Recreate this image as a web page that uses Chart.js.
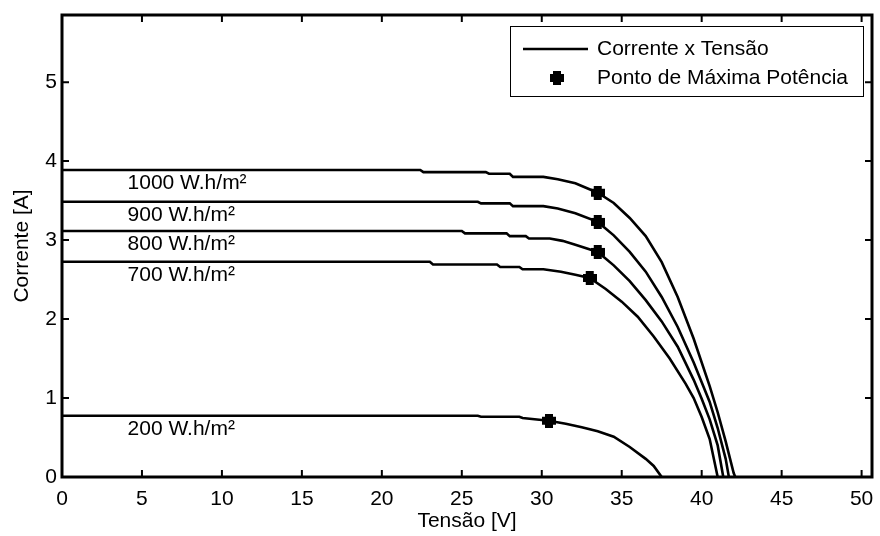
<!DOCTYPE html>
<html lang="pt">
<head>
<meta charset="UTF-8">
<title>Curvas Corrente x Tensão</title>
<style>
    body {
        margin: 0;
        background: #ffffff;
    }
    #ivChart {
        display: block;
    }
</style>
</head>
<body>
<canvas id="ivChart" width="880" height="536"></canvas>

<script src="https://cdn.jsdelivr.net/npm/chart.js@4/dist/chart.umd.min.js"></script>
<script>
    // Rótulos de irradiância de cada curva
    const irradiancias = ['1000 W.h/m²', '900 W.h/m²', '800 W.h/m²', '700 W.h/m²', '200 W.h/m²'];

    // Curvas I x V (tensão em V, corrente em A)
    const tensao1000 = [0, 22.4, 22.6, 26.5, 26.7, 28.0, 28.2, 30.1, 31.0, 32.1, 33.5, 34.5, 35.5, 36.5, 37.5, 38.5, 39.5, 40.5, 41.0, 41.5, 42.0, 42.1];
    const corrente1000 = [3.888, 3.888, 3.86, 3.86, 3.84, 3.84, 3.80, 3.80, 3.77, 3.72, 3.60, 3.47, 3.28, 3.05, 2.72, 2.28, 1.75, 1.15, 0.82, 0.45, 0.05, 0];

    const tensao900 = [0, 26.0, 26.2, 28.0, 28.2, 30.1, 31.0, 32.1, 33.5, 34.5, 35.5, 36.5, 37.5, 38.5, 39.5, 40.0, 40.5, 41.0, 41.5, 41.7];
    const corrente900 = [3.485, 3.485, 3.465, 3.465, 3.43, 3.43, 3.40, 3.34, 3.23, 3.06, 2.85, 2.60, 2.28, 1.90, 1.45, 1.20, 0.95, 0.62, 0.23, 0];

    const tensao800 = [0, 25.0, 25.2, 27.8, 28.0, 29.0, 29.2, 30.5, 31.3, 32.1, 33.5, 34.5, 35.5, 36.5, 37.5, 38.5, 39.5, 40.0, 40.5, 41.0, 41.35];
    const corrente800 = [3.115, 3.115, 3.085, 3.085, 3.05, 3.05, 3.02, 3.02, 2.99, 2.94, 2.85, 2.68, 2.48, 2.24, 1.97, 1.65, 1.23, 0.99, 0.73, 0.40, 0];

    const tensao700 = [0, 23.0, 23.2, 27.2, 27.4, 28.6, 28.8, 30.1, 31.2, 32.1, 33.0, 34.0, 35.0, 36.0, 37.0, 38.0, 39.0, 39.5, 40.0, 40.5, 41.0];
    const corrente700 = [2.725, 2.725, 2.69, 2.69, 2.66, 2.66, 2.63, 2.63, 2.60, 2.56, 2.52, 2.38, 2.22, 2.03, 1.78, 1.50, 1.18, 1.00, 0.76, 0.48, 0];

    const tensao200 = [0, 26.0, 26.2, 28.6, 28.8, 30.45, 31.5, 32.5, 33.5, 34.5, 35.5, 36.5, 37.0, 37.5];
    const corrente200 = [0.775, 0.775, 0.763, 0.763, 0.747, 0.713, 0.675, 0.63, 0.58, 0.51, 0.38, 0.23, 0.14, 0];

    // Pontos de máxima potência (1000, 900, 800, 700, 200)
    const tensaoMPP = [33.5, 33.5, 33.5, 33.0, 30.45];
    const correnteMPP = [3.60, 3.23, 2.85, 2.52, 0.713];

    // Marcas dos eixos
    const ticksTensao = [0, 5, 10, 15, 20, 25, 30, 35, 40, 45, 50];
    const ticksCorrente = [0, 1, 2, 3, 4, 5];

    const legendas = ['Corrente x Tensão', 'Ponto de Máxima Potência'];

    const curvas = [
        [tensao1000, corrente1000],
        [tensao900, corrente900],
        [tensao800, corrente800],
        [tensao700, corrente700],
        [tensao200, corrente200]
    ];

    const FONTE = '"Liberation Sans", Arial, sans-serif';
    const TAM_FONTE = 21;

    // marcador em forma de cruz grossa
    function criaMarcador(tam) {
        const c = document.createElement('canvas');
        c.width = tam;
        c.height = tam;
        const g = c.getContext('2d');
        const braco = Math.round(tam * 0.55);
        const off = (tam - braco) / 2;
        g.fillStyle = '#000';
        g.fillRect(0, off, tam, braco);
        g.fillRect(off, 0, braco, tam);
        g.beginPath();
        g.arc(tam / 2, tam / 2, tam * 0.4, 0, Math.PI * 2);
        g.fill();
        return c;
    }
    const marcador = criaMarcador(14);

    const datasets = curvas.map(c => ({
        label: legendas[0],
        data: c[0].map((v, i) => ({ x: v, y: c[1][i] })),
        showLine: true,
        borderColor: '#000',
        borderWidth: 2.6,
        pointRadius: 0,
        tension: 0
    }));

    datasets.push({
        label: legendas[1],
        data: tensaoMPP.map((v, i) => ({ x: v, y: correnteMPP[i] })),
        showLine: false,
        pointStyle: marcador,
        pointRadius: 7,
        backgroundColor: '#000',
        borderColor: '#000'
    });

    // moldura, marcas internas, rótulos das curvas e legenda
    const moldura = {
        id: 'moldura',
        afterDatasetsDraw(chart) {
            const ctx = chart.ctx;
            const a = chart.chartArea;
            const sx = chart.scales.x;
            const sy = chart.scales.y;
            ctx.save();
            ctx.strokeStyle = '#000';

            // marcas para dentro
            ctx.lineWidth = 2;
            ctx.beginPath();
            ticksTensao.forEach(v => {
                const px = sx.getPixelForValue(v);
                ctx.moveTo(px, a.bottom);
                ctx.lineTo(px, a.bottom - 7);
                ctx.moveTo(px, a.top);
                ctx.lineTo(px, a.top + 7);
            });
            ticksCorrente.forEach(v => {
                const py = sy.getPixelForValue(v);
                ctx.moveTo(a.left, py);
                ctx.lineTo(a.left + 7, py);
                ctx.moveTo(a.right, py);
                ctx.lineTo(a.right - 7, py);
            });
            ctx.stroke();

            ctx.lineWidth = 3;
            ctx.strokeRect(a.left, a.top, a.right - a.left, a.bottom - a.top);

            // rótulos de irradiância logo abaixo de cada curva
            ctx.fillStyle = '#000';
            ctx.font = TAM_FONTE + 'px ' + FONTE;
            ctx.textAlign = 'left';
            ctx.textBaseline = 'middle';
            const xRotulo = sx.getPixelForValue(4.1);
            curvas.forEach((c, k) => {
                const py = sy.getPixelForValue(c[1][0]);
                ctx.fillText(irradiancias[k], xRotulo, py + 13);
            });

            // legenda
            const lx = a.right - 362;
            const ly = a.top + 11;
            const lw = 353;
            const lh = 70;
            ctx.fillStyle = '#fff';
            ctx.fillRect(lx, ly, lw, lh);
            ctx.lineWidth = 1;
            ctx.strokeRect(lx + 0.5, ly + 0.5, lw, lh);

            ctx.lineWidth = 2.6;
            ctx.beginPath();
            ctx.moveTo(lx + 13, ly + 23);
            ctx.lineTo(lx + 78, ly + 23);
            ctx.stroke();
            ctx.drawImage(marcador, lx + 47 - 7, ly + 52 - 7);

            ctx.fillStyle = '#000';
            ctx.fillText(legendas[0], lx + 87, ly + 23);
            ctx.fillText(legendas[1], lx + 87, ly + 52);
            ctx.restore();
        }
    };

    new Chart(document.getElementById('ivChart'), {
        type: 'scatter',
        data: { datasets: datasets },
        options: {
            responsive: false,
            animation: false,
            layout: { padding: { top: 15, right: 3, left: 0, bottom: 0 } },
            plugins: {
                legend: { display: false },
                tooltip: { enabled: false }
            },
            scales: {
                x: {
                    type: 'linear',
                    min: 0,
                    max: 50.65,
                    afterBuildTicks: s => { s.ticks = ticksTensao.map(v => ({ value: v })); },
                    afterFit: s => {
                        s.height = 59;
                        s.paddingLeft = 0;
                        s.paddingRight = 0;
                    },
                    grid: { display: false, drawTicks: false },
                    border: { display: false },
                    ticks: {
                        color: '#000',
                        padding: 10,
                        maxRotation: 0,
                        font: { family: FONTE, size: TAM_FONTE }
                    },
                    title: {
                        display: true,
                        text: 'Tensão [V]',
                        color: '#000',
                        padding: { top: 0, bottom: 2 },
                        font: { family: FONTE, size: TAM_FONTE }
                    }
                },
                y: {
                    type: 'linear',
                    min: 0,
                    max: 5.85,
                    afterBuildTicks: s => { s.ticks = ticksCorrente.map(v => ({ value: v })); },
                    afterFit: s => {
                        s.width = 62;
                        s.paddingTop = 0;
                        s.paddingBottom = 0;
                    },
                    grid: { display: false, drawTicks: false },
                    border: { display: false },
                    ticks: {
                        color: '#000',
                        padding: 5,
                        font: { family: FONTE, size: TAM_FONTE }
                    },
                    title: {
                        display: true,
                        text: 'Corrente [A]',
                        color: '#000',
                        padding: { top: 10, bottom: 0 },
                        font: { family: FONTE, size: TAM_FONTE }
                    }
                }
            }
        },
        plugins: [moldura]
    });
</script>
</body>
</html>
